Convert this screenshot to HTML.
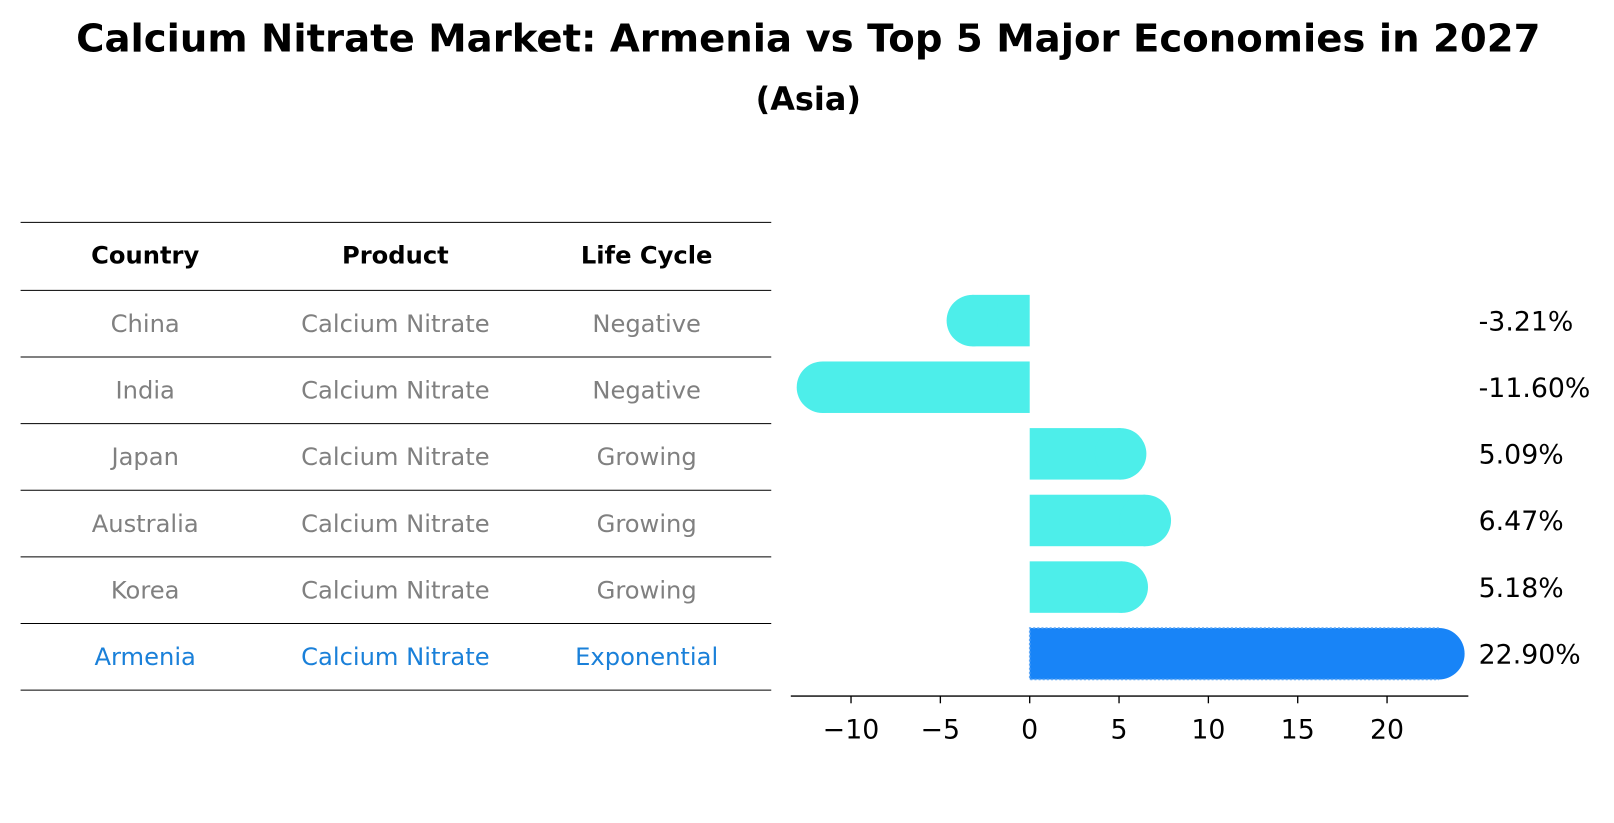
<!DOCTYPE html>
<html><head><meta charset="utf-8"><style>
body{margin:0;background:#fff;font-family:"Liberation Sans","DejaVu Sans",sans-serif;}
#outer{position:relative;width:1614px;height:823px;overflow:hidden;}
#wrap{position:absolute;left:0;top:0;width:1614px;height:823px;transform:scale(1.0297);transform-origin:0 0;}
.t{position:absolute;white-space:nowrap;}
</style></head><body>
<div id="outer">
<div id="wrap">
<div class="t" style="left:0;width:1570px;top:15px;text-align:center;font-weight:bold;font-size:37.5px;font-family:'DejaVu Sans',sans-serif;">Calcium Nitrate Market: Armenia vs Top 5 Major Economies in 2027</div>
<div class="t" style="left:0;width:1570px;top:79px;text-align:center;font-weight:bold;font-size:31px;font-family:'DejaVu Sans',sans-serif;">(Asia)</div>
<svg id="svg" width="1614" height="823" style="position:absolute;left:0;top:0"></svg>
</div>
</div>
<script>
const countries=["China","India","Japan","Australia","Korea","Armenia"];
const products=["Calcium Nitrate","Calcium Nitrate","Calcium Nitrate","Calcium Nitrate","Calcium Nitrate","Calcium Nitrate"];
const lifeCycles=["Negative","Negative","Growing","Growing","Growing","Exponential"];
const growth=[-3.21,-11.60,5.09,6.47,5.18,22.90];
const ticks=[-10,-5,0,5,10,15,20];
const NS="http://www.w3.org/2000/svg";
const svg=document.getElementById('svg');
function mk(tag,attrs,parent){const e=document.createElementNS(NS,tag);for(const k in attrs)e.setAttribute(k,attrs[k]);(parent||svg).appendChild(e);return e;}
const xMin=-13.37,xMax=24.55,px0=768,px1=1426;
function x(v){return px0+(v-xMin)/(xMax-xMin)*(px1-px0);}
const rowTop=282,rowH=64.7,barH=50,r=25;
function yc(i){return rowTop+rowH*(i+0.5)-3;}
const font="'DejaVu Sans',sans-serif";
const lines=[216,282];for(let i=1;i<=6;i++)lines.push(282+rowH*i);
lines.forEach((ly)=>{const l=mk('line',{x1:20,x2:749,y1:ly,y2:ly,stroke:'#000','stroke-width':1});

});
const cols=[141,384,628];
["Country","Product","Life Cycle"].forEach((h,j)=>{const t=mk('text',{x:cols[j],y:256,'text-anchor':'middle','font-size':23.5,'font-weight':'bold','font-family':font});t.textContent=h;

});
countries.forEach((c,i)=>{const col=i===5?'#1a80d9':'#808080';const cy=282+rowH*(i+0.5)+8;
[c,products[i],lifeCycles[i]].forEach((v,j)=>{const t=mk('text',{x:cols[j],y:cy,'text-anchor':'middle','font-size':23.5,fill:col,'font-family':font});t.textContent=v;

});});
growth.forEach((v,i)=>{const isA=i===5;const fill=isA?'#1884f7':'#4deeea';const y0=yc(i)-barH/2;const x0=x(0),xv=x(v);
const g=mk('g',{});


const left=Math.min(x0,xv),w=Math.abs(xv-x0);
mk('rect',{x:left,y:y0,width:w,height:barH,fill:fill},g);
mk('circle',{cx:xv,cy:yc(i),r:r,fill:fill},g);
if(isA){mk('path',{d:`M${xv} ${y0} L${x0} ${y0} L${x0} ${y0+barH} L${xv} ${y0+barH}`,fill:'none',stroke:'#5fa8f5','stroke-width':1.5,'stroke-dasharray':'2 2'},g);}
const t=mk('text',{x:1436,y:yc(i)+9.5,'font-size':26,'font-family':font});t.textContent=v.toFixed(2)+'%';

});
const ax=mk('line',{x1:px0,x2:px1,y1:676,y2:676,stroke:'#000','stroke-width':1.3});


ticks.forEach(tv=>{mk('line',{x1:x(tv),x2:x(tv),y1:676,y2:683,stroke:'#000','stroke-width':1.3});
const t=mk('text',{x:x(tv),y:717,'text-anchor':'middle','font-size':26,'font-family':font});t.textContent=tv<0?'\u2212'+Math.abs(tv):String(tv);

});
</script>
</body></html>
